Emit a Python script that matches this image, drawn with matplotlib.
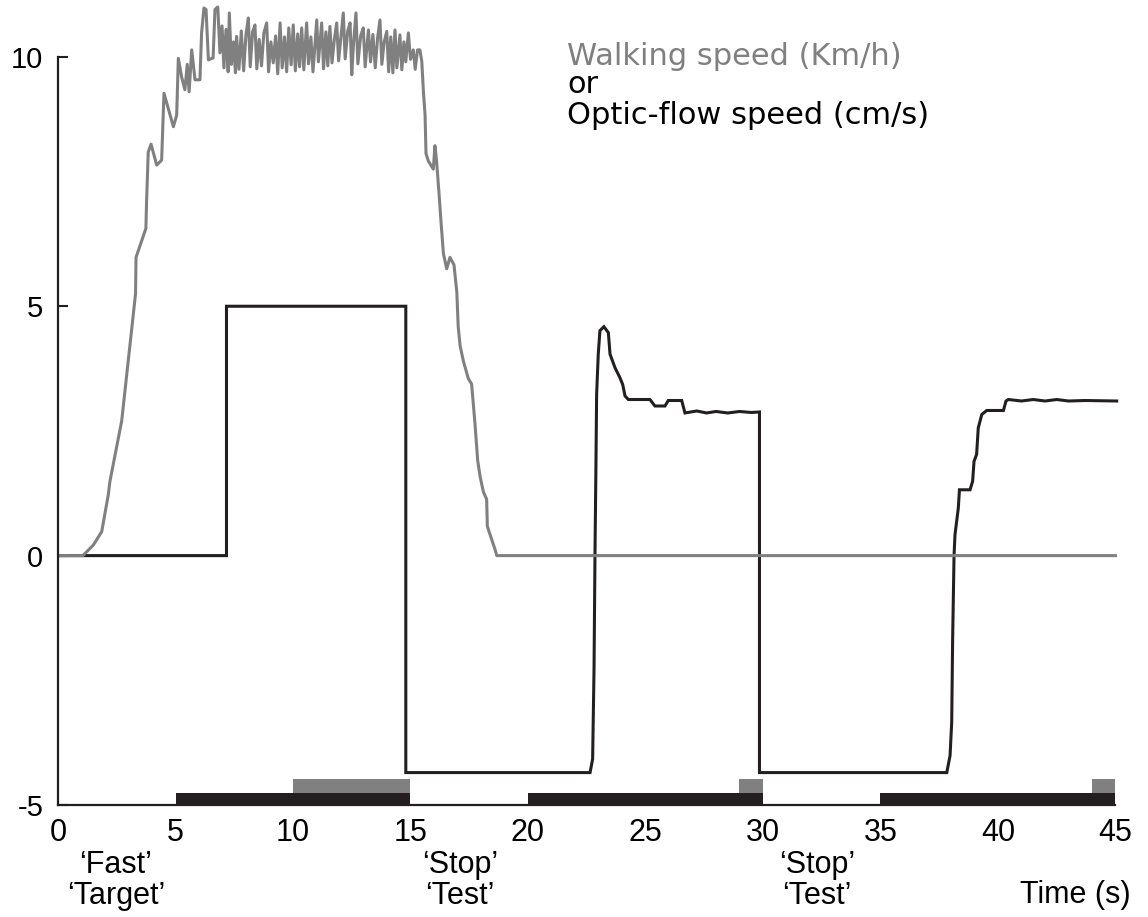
import matplotlib.pyplot as plt

plt.rcParams['font.family'] = ['Liberation Sans', 'DejaVu Sans']
plt.rcParams['axes.unicode_minus'] = False

## walking speed (grey trace)
walk_t = [0, 1.06, 1.50, 1.86, 2.14, 2.21, 2.71, 3.30, 3.32, 3.74, 3.77, 3.84, 3.96, 4.20,
          4.41, 4.51, 4.91, 5.05, 5.12, 5.26, 5.40, 5.50, 5.58, 5.69, 5.83, 6.04, 6.11,
          6.21, 6.30, 6.40, 6.60, 6.68, 6.80, 6.89,
          6.98, 7.06, 7.15, 7.24, 7.29, 7.38, 7.47, 7.55, 7.60, 7.70, 7.80, 7.90, 8.00,
          8.10, 8.18, 8.28, 8.38, 8.46, 8.56, 8.66, 8.76, 8.88, 8.96, 9.06, 9.16, 9.26,
          9.35, 9.45, 9.54, 9.64, 9.73, 9.82, 9.92, 10.01, 10.10, 10.20, 10.28, 10.37,
          10.46, 10.58, 10.66, 10.76, 10.85, 11.01, 11.08, 11.22, 11.30, 11.40, 11.48,
          11.57, 11.66, 11.76, 11.86, 11.94, 12.04, 12.14, 12.22, 12.33, 12.43, 12.50,
          12.58, 12.68, 12.76, 12.88, 12.99, 13.07, 13.21, 13.30, 13.40, 13.50, 13.60,
          13.70, 13.78, 13.88, 13.99, 14.07, 14.16, 14.25, 14.34, 14.42, 14.55, 14.63,
          14.72, 14.80, 14.91, 15.00, 15.12, 15.20, 15.30,
          15.40, 15.48, 15.55, 15.62, 15.66, 15.76, 15.97, 16.04, 16.11, 16.22, 16.30,
          16.40, 16.54, 16.68, 16.85, 16.97, 17.03, 17.11, 17.25, 17.46, 17.60, 17.74,
          17.86, 17.96, 18.10, 18.24, 18.27, 18.38, 18.60, 18.67, 45.0]
walk_v = [0, 0, 0.21, 0.48, 1.22, 1.49, 2.70, 5.25, 5.98, 6.56, 7.12, 8.09, 8.25, 7.83,
          7.93, 9.27, 8.60, 8.83, 9.97, 9.60, 9.34, 9.85, 9.30, 10.14, 9.54, 9.54, 10.48,
          10.98, 10.95, 9.94, 9.98, 10.95, 11.00, 10.08,
          10.62, 9.78, 10.55, 9.70, 10.88, 9.85, 10.30, 9.68, 10.41, 9.75, 10.52, 9.72, 10.45,
          10.78, 9.80, 10.50, 10.64, 9.76, 10.35, 9.82, 10.48, 10.68, 9.70, 10.30, 9.88, 10.42,
          9.66, 10.68, 9.78, 10.40, 9.70, 10.58, 9.84, 10.64, 9.72, 10.46, 9.80, 10.58,
          9.74, 10.68, 9.86, 10.40, 9.70, 10.74, 9.90, 10.68, 9.76, 10.50, 9.82,
          10.61, 9.88, 10.35, 10.68, 9.92, 10.40, 10.88, 9.96, 10.52, 10.68, 9.64,
          10.30, 10.88, 9.86, 10.42, 10.58, 9.80, 10.54, 9.90, 10.45, 9.78, 10.38,
          10.74, 9.85, 10.30, 10.51, 9.70, 10.40, 9.68, 10.54, 9.78, 10.44, 9.74,
          10.30, 9.90, 10.48, 9.95, 10.14, 9.75, 10.14,
          10.14, 9.91, 9.30, 8.83, 8.06, 7.91, 7.75, 8.22, 7.91, 7.22, 6.68,
          6.06, 5.75, 5.98, 5.83, 5.29, 4.59, 4.21, 3.90, 3.55, 3.44, 2.67,
          1.90, 1.59, 1.28, 1.13, 0.59, 0.43, 0.12, 0.0, 0.0]

## optic-flow speed (black trace)
flow_t = [0, 7.17, 7.17, 14.8, 14.8, 22.64, 22.75, 22.81, 22.85, 22.89, 22.92, 22.99,
          23.06, 23.23, 23.42, 23.49, 23.70, 23.91, 24.03, 24.13, 24.27, 25.19, 25.40,
          25.83, 25.97, 26.54, 26.68, 27.18, 27.6, 28.0, 28.5, 29.0, 29.5, 29.85,
          29.85, 37.82, 37.96, 38.03, 38.07, 38.13, 38.17, 38.31, 38.36, 38.81, 38.92,
          38.98, 39.09, 39.16, 39.31, 39.52, 40.23, 40.34, 40.44, 41.0, 41.5, 42.0,
          42.5, 43.0, 43.70, 45.05]
flow_v = [0, 0, 5, 5, -4.35, -4.35, -4.08, -2.27, 0.01, 1.76, 3.23, 4.04,
          4.51, 4.59, 4.47, 4.04, 3.77, 3.57, 3.43, 3.20, 3.13, 3.13, 3.00,
          3.00, 3.11, 3.11, 2.86, 2.90, 2.86, 2.89, 2.86, 2.89, 2.87, 2.88,
          -4.35, -4.35, -4.01, -3.34, -1.66, 0.01, 0.42, 0.95, 1.32, 1.32, 1.49,
          1.89, 2.03, 2.56, 2.83, 2.91, 2.91, 3.10, 3.13, 3.10, 3.13, 3.10,
          3.13, 3.10, 3.11, 3.10]

## trial phases along the time axis
black_start = [5, 20, 35]
black_end = [15, 30, 45]
gray_start = [10, 29, 44]
gray_end = [15, 30, 45]

xticks = [0, 5, 10, 15, 20, 25, 30, 35, 40, 45]
yticks = [-5, 0, 5, 10]

cue_x = [2.47, 17.1, 32.3]
cue_top = ['\u2018Fast\u2019', '\u2018Stop\u2019', '\u2018Stop\u2019']
cue_bottom = ['\u2018Target\u2019', '\u2018Test\u2019', '\u2018Test\u2019']

BLACK = '#231f20'
GRAY = '#808080'

fig = plt.figure(figsize=(11.48, 9.17), dpi=100)
ax = fig.add_axes([58 / 1148, 112 / 917, 1090 / 1148, 805 / 917])
ax.set_xlim(0, 1090 / 23.5)
ax.set_ylim(-5, 11.14)

ax.broken_barh([(s, e - s) for s, e in zip(black_start, black_end)], (-5, 0.24),
               facecolor=BLACK, zorder=1)
ax.broken_barh([(s, e - s) for s, e in zip(gray_start, gray_end)], (-4.76, 0.28),
               facecolor=GRAY, zorder=1)

ax.plot(flow_t, flow_v, color=BLACK, lw=2.2, zorder=2, solid_joinstyle='miter')
ax.plot(walk_t, walk_v, color=GRAY, lw=2.2, zorder=3)

for s in ['top', 'right']:
    ax.spines[s].set_visible(False)
for s in ['left', 'bottom']:
    ax.spines[s].set_linewidth(1.6)
    ax.spines[s].set_color(BLACK)
    ax.spines[s].set_zorder(4)
ax.spines['left'].set_bounds(-5, 10)
ax.spines['bottom'].set_bounds(0, 45)

ax.set_xticks(xticks)
ax.set_yticks(yticks)
ax.set_yticklabels([str(v) for v in yticks])
ax.tick_params(axis='x', length=0, labelsize=22, pad=9.5)
ax.tick_params(axis='y', direction='in', length=7, width=1.5, color=BLACK,
               labelsize=21, pad=10.5)

## legend-like text at the top
leg_font = ['DejaVu Sans']
ax.text(21.66, 9.84, 'Walking speed (Km/h)', color=GRAY, fontsize=22, family=leg_font,
        va='baseline')
ax.text(21.66, 9.28, 'or', color='black', fontsize=22, family=leg_font, va='baseline')
ax.text(21.66, 8.66, 'Optic-flow speed (cm/s)', color='black', fontsize=22, family=leg_font,
        va='baseline')

## cue words below the axis
for x, t1, t2 in zip(cue_x, cue_top, cue_bottom):
    ax.text(x, -6.36, t1, fontsize=22, ha='center', va='baseline', clip_on=False)
    ax.text(x, -6.99, t2, fontsize=22, ha='center', va='baseline', clip_on=False)
ax.text(45.66, -6.97, 'Time (s)', fontsize=22, ha='right', va='baseline', clip_on=False)

fig.savefig('out.png', dpi=100)
